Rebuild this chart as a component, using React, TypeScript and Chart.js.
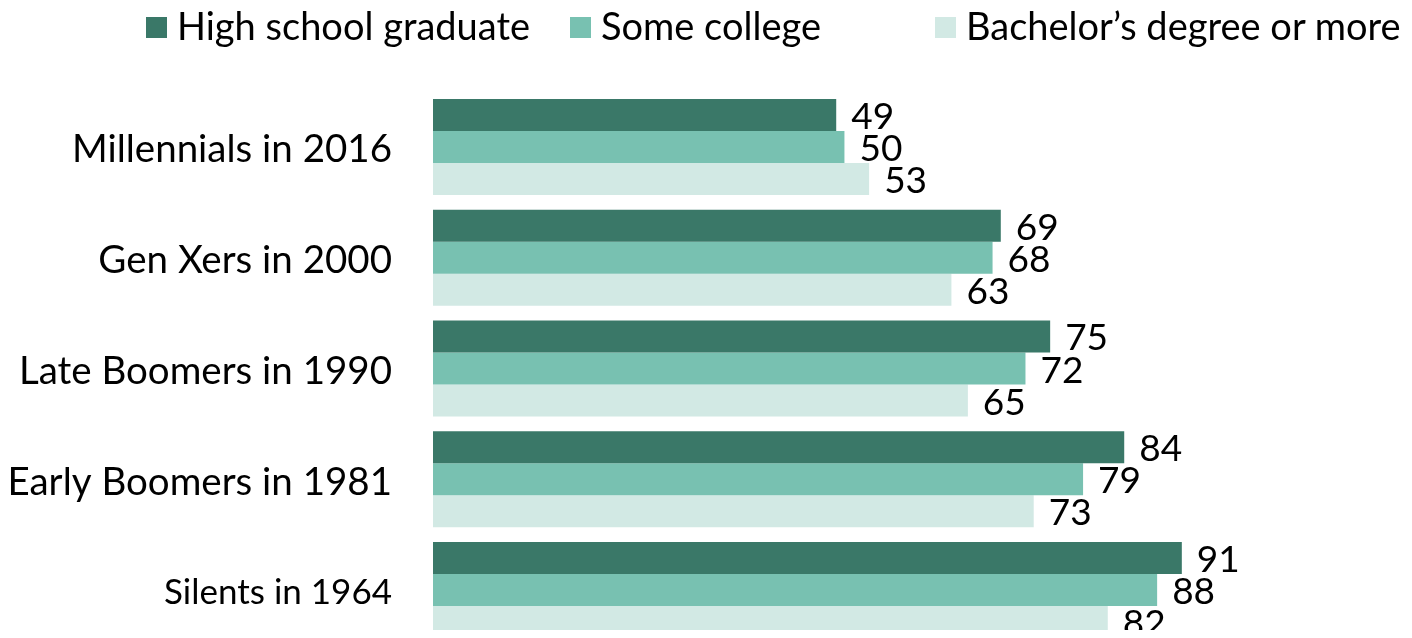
import React, { useEffect, useRef } from "react";
import { Chart, registerables } from "chart.js";

Chart.register(...registerables);

const categories = [
  "Millennials in 2016",
  "Gen Xers in 2000",
  "Late Boomers in 1990",
  "Early Boomers in 1981",
  "Silents in 1964",
];
const seriesLabels = ["High school graduate", "Some college", "Bachelor\u2019s degree or more"];
const highSchool = [49, 69, 75, 84, 91];
const someCollege = [50, 68, 72, 79, 88];
const bachelors = [53, 63, 65, 73, 82];
const seriesValues = [highSchool, someCollege, bachelors];
const tickFontSizes = [38.5, 38.5, 38.5, 38.5, 35];
const colors = ["#3a7868", "#78c1b1", "#d2e9e4"];
const legendLeft = [138, 562, 927];

const FONT = "Lato";
const WEIGHT = 400;

const valueLabelPlugin = {
  id: "valueLabels",
  afterDatasetsDraw(chart: any) {
    const ctx = chart.ctx;
    ctx.save();
    ctx.font = `${WEIGHT} 37px ${FONT}`;
    ctx.fillStyle = "#000";
    ctx.textAlign = "left";
    ctx.textBaseline = "alphabetic";
    chart.data.datasets.forEach((ds: any, di: number) => {
      const meta = chart.getDatasetMeta(di);
      meta.data.forEach((el: any, i: number) => {
        ctx.fillText(String(ds.data[i]), el.x + 15, el.y + 14);
      });
    });
    ctx.restore();
  },
};

export default function App() {
  const ref = useRef<HTMLCanvasElement | null>(null);
  useEffect(() => {
    if (!ref.current) return;
    const chart = new Chart(ref.current, {
      type: "bar",
      data: {
        labels: categories,
        datasets: seriesValues.map((vals, i) => ({
          label: seriesLabels[i],
          data: vals,
          backgroundColor: colors[i],
          borderWidth: 0,
          barPercentage: 1,
          categoryPercentage: 0.867,
          clip: false as any,
        })),
      },
      options: {
        indexAxis: "y",
        animation: false,
        responsive: false,
        layout: { padding: { top: 139, bottom: 48, left: 0, right: 0 } },
        scales: {
          x: { display: false, min: 0, max: 118 },
          y: {
            offset: false,
            grid: { display: false, drawTicks: false },
            border: { display: false },
            ticks: {
              color: "#000",
              font: (c: any) => ({ family: FONT, size: tickFontSizes[c.index] ?? 38.5, weight: WEIGHT as any }),
              padding: 41,
              labelOffset: 3,
            },
            afterFit: (s: any) => {
              s.width = 425;
              s.paddingTop = 0;
              s.paddingBottom = 0;
            },
          },
        },
        plugins: { legend: { display: false }, tooltip: { enabled: false } },
      },
      plugins: [valueLabelPlugin],
    });
    return () => chart.destroy();
  }, []);

  return (
    <div style={{ position: "relative", height: 630, marginBottom: -8, fontFamily: FONT, fontWeight: WEIGHT }}>
      <canvas ref={ref} width={1396} height={630} style={{ display: "block", width: 1396, height: 630 }} />
      {seriesLabels.map((l, i) => (
        <div key={l} style={{ position: "absolute", left: legendLeft[i], top: 0, height: 40 }}>
          <div
            style={{
              position: "absolute",
              left: 0,
              top: 9,
              width: 21,
              height: 21,
              background: colors[i],
            }}
          />
          <div
            style={{
              position: "absolute",
              left: 31,
              top: -2,
              fontSize: 38,
              lineHeight: "38px",
              whiteSpace: "nowrap",
              color: "#000",
            }}
          >
            {l}
          </div>
        </div>
      ))}
    </div>
  );
}
